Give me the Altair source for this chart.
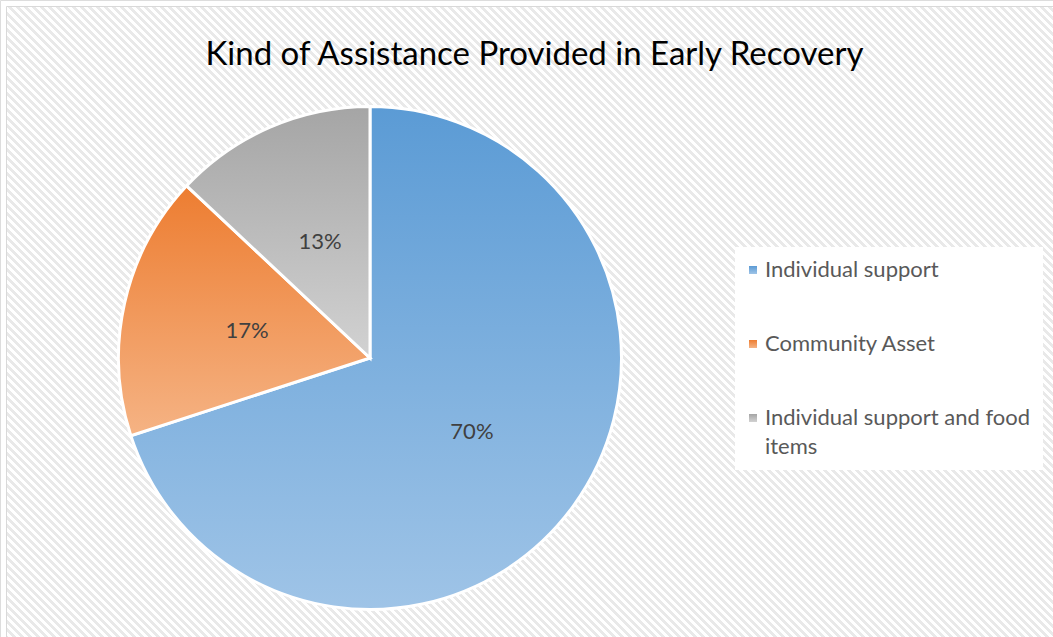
import altair as alt
import pandas as pd

# ---- data ----
categories = ["Individual support", "Community Asset", "Individual support and food items"]
values = [70, 17, 13]
labels = ["70%", "17%", "13%"]
order_idx = [0, 1, 2]

# ---- style ----
top_colors = ["#5b9bd5", "#ed7d31", "#a5a5a5"]
bottom_colors = ["#9fc4e7", "#f5b384", "#d2d2d2"]

df = pd.DataFrame({"cat": categories, "value": values, "label": labels, "idx": order_idx})


def grad_expr(c0, c1):
    return alt.ExprRef(
        expr=(
            "{gradient: 'linear', x1: 0, y1: 0, x2: 0, y2: 1, "
            f"stops: [{{offset: 0, color: '{c0}'}}, {{offset: 1, color: '{c1}'}}]}}"
        )
    )


color_range = [grad_expr(a, b) for a, b in zip(top_colors, bottom_colors)]

# hatched background (wide downward diagonal) as a striped linear gradient
N_STRIPES = 262
DUTY = 0.5
stops = []
for k in range(N_STRIPES):
    s = k / N_STRIPES
    m = (k + DUTY) / N_STRIPES
    e = (k + 1) / N_STRIPES
    stops += [
        {"offset": s, "color": "#e9e9e9"},
        {"offset": m, "color": "#e9e9e9"},
        {"offset": m, "color": "#ffffff"},
        {"offset": e, "color": "#ffffff"},
    ]
hatch = {"gradient": "linear", "x1": 0, "y1": 1, "x2": 1, "y2": 0, "stops": stops}

background = (
    alt.Chart(alt.Data(values=[{"a": 1}]))
    .mark_rect(fill=hatch, stroke="#d9d9d9", strokeWidth=1)
    .encode(x=alt.value(6.5), x2=alt.value(1055.5), y=alt.value(6.5), y2=alt.value(1055.5))
)

base = alt.Chart(df).encode(
    theta=alt.Theta("value:Q", stack=True),
    order=alt.Order("idx:Q", sort="ascending"),
    x=alt.value(370),
    y=alt.value(358),
)

pie = base.mark_arc(outerRadius=251.5, stroke="white", strokeWidth=3).encode(
    color=alt.Color(
        "cat:N",
        scale=alt.Scale(domain=categories, range=color_range),
        legend=alt.Legend(
            title=None,
            orient="none",
            legendX=735,
            legendY=247,
            fillColor="white",
            padding=12,
            symbolType="square",
            symbolSize=64,
            symbolStrokeWidth=0,
            symbolOffset=-5,
            labelFont="Lato",
            labelFontSize=22,
            labelColor="#595959",
            labelOffset=1,
            rowPadding=52,
            labelLimit=400,
            labelExpr="datum.label == 'Individual support and food items' ? ['Individual support and food', 'items'] : datum.label",
        ),
    )
)

text = base.mark_text(radius=126, font="Lato", fontSize=22, fill="#404040").encode(
    text="label:N",
    detail="cat:N",
)

chart = (
    alt.layer(background, pie, text)
    .properties(
        width=1053,
        height=637,
        padding=0,
        autosize=alt.AutoSizeParams(type="none"),
        title=alt.TitleParams(
            "Kind of Assistance Provided in Early Recovery",
            font="Lato",
            fontSize=33,
            fontWeight="normal",
            color="#000000",
            anchor="middle",
            baseline="alphabetic",
            offset=0,
            dy=98,
            dx=8,
        ),
    )
    .configure_view(stroke=None)
    .configure(background="white", style={"guide-label": {"lineHeight": 29}})
)

chart.save("out.html", embed_options={"renderer": "svg", "actions": False})
